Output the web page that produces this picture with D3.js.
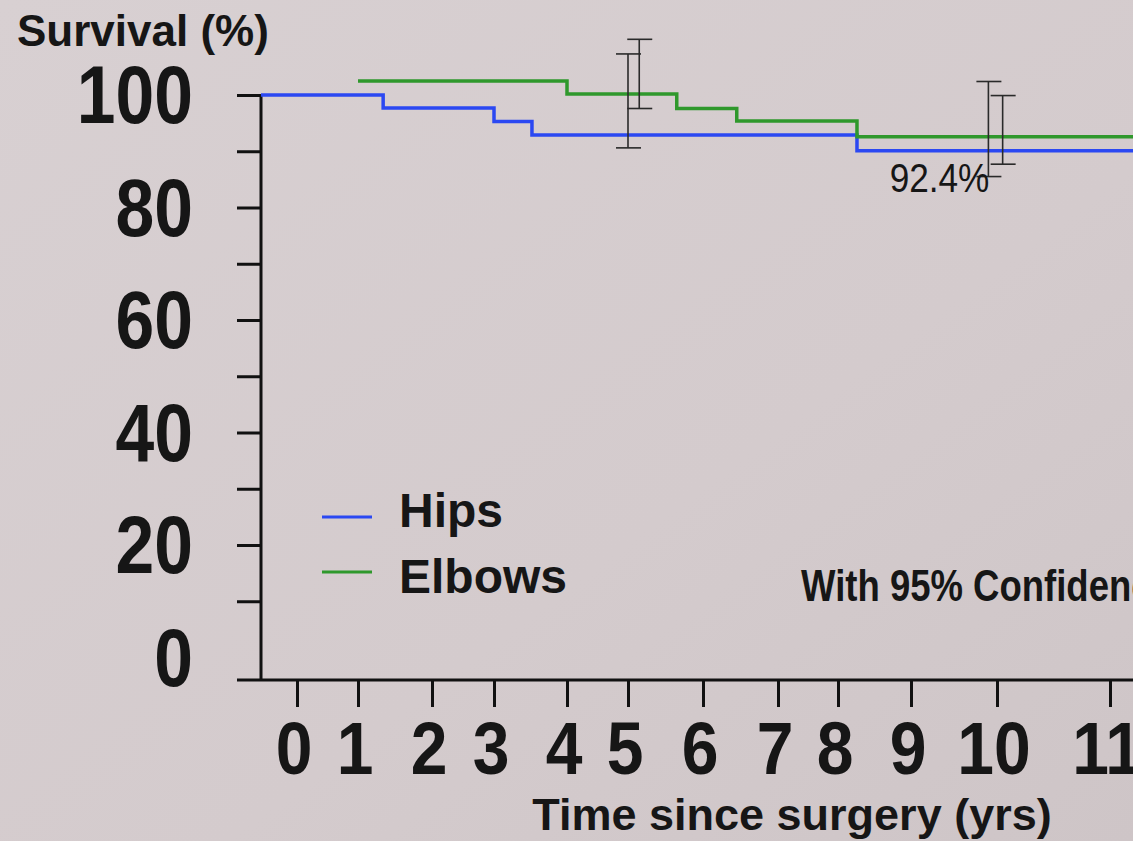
<!DOCTYPE html>
<html>
<head>
<meta charset="utf-8">
<script src="https://cdn.jsdelivr.net/npm/d3@7"></script>
<style>
    html, body { margin: 0; padding: 0; overflow: hidden; }
    body { background: #d5cdcf; }
    text { font-family: "Liberation Sans", Arial, Helvetica, sans-serif; fill: #161616; }
</style>
</head>
<body>
<div id="cvs-container"><svg></svg></div>
<script>
// ---- data ----
const years = [0, 1, 2, 3, 4, 5, 6, 7, 8, 9, 10, 11];
const yTicks = [10, 20, 30, 40, 50, 60, 70, 80, 90, 100];
const yLabels = [0, 20, 40, 60, 80, 100];

// step curves: time the level starts, survival %
const hipsTime = [-0.6, 1.34, 3.0, 3.52, 8.26];
const hipsSurv = [100, 97.7, 95.3, 92.9, 90.1];
const elbowsTime = [1.0, 4.0, 5.65, 6.45, 8.26];
const elbowsSurv = [102.5, 100.2, 97.6, 95.4, 92.6];
const endTime = 11.4;

// 95% confidence bars
const ciTime = [5.0, 5.15, 9.9, 10.05];
const ciLow = [90.6, 97.6, 85.5, 87.7];
const ciHigh = [107.3, 109.9, 102.4, 99.9];

const seriesNames = ["Hips", "Elbows"];
const seriesColors = ["#2b48f2", "#2f982c"];
const noteText = "92.4%";

let width = 1133;
let height = 841;

let svg = d3.select("svg")
    .attr("width", width)
    .attr("height", height);

// photo-ish background
let defs = svg.append("defs");
let grad = defs.append("linearGradient").attr("id", "bg")
    .attr("x1", "0").attr("y1", "0").attr("x2", "1").attr("y2", "1");
grad.append("stop").attr("offset", "0").attr("stop-color", "#d8d0d2");
grad.append("stop").attr("offset", "0.6").attr("stop-color", "#d4cbcd");
grad.append("stop").attr("offset", "1").attr("stop-color", "#cec5c7");
svg.append("rect").attr("width", width).attr("height", height).attr("fill", "url(#bg)");

// the slide's year ticks are not evenly spaced, so x is a piecewise scale
let x = d3.scaleLinear()
    .domain([-0.6].concat(years))
    .range([261, 297, 358, 432, 494, 567, 628, 703, 778, 838, 911, 997, 1110]);

let y = d3.scaleLinear()
    .domain([-4, 100])
    .range([680, 95]);

let axisY = y(-4);
let axisX = x(-0.6);

// y axis ticks
let gy = svg.append("g")
    .attr("transform", `translate(${axisX},0)`)
    .call(d3.axisLeft(y).tickValues(yTicks).tickSize(24).tickFormat(""));
gy.select(".domain").remove();
gy.selectAll(".tick line").attr("stroke", "#111").attr("stroke-width", 3);

// x axis ticks
let gx = svg.append("g")
    .attr("transform", `translate(0,${axisY})`)
    .call(d3.axisBottom(x).tickValues(years).tickSize(27).tickFormat(""));
gx.select(".domain").remove();
gx.selectAll(".tick line").attr("stroke", "#111").attr("stroke-width", 3);

// axis lines
svg.append("line")
    .attr("x1", axisX).attr("x2", axisX)
    .attr("y1", y(100) - 1).attr("y2", axisY)
    .attr("stroke", "#111").attr("stroke-width", 3);
svg.append("line")
    .attr("x1", axisX - 24).attr("x2", width)
    .attr("y1", axisY).attr("y2", axisY)
    .attr("stroke", "#111").attr("stroke-width", 3);

// y labels (the slide font is a bit narrow)
svg.selectAll(".ylab").data(yLabels).enter().append("text")
    .attr("class", "ylab")
    .attr("transform", d => `translate(193,${y(d) + 28}) scale(0.86,1)`)
    .attr("text-anchor", "end")
    .style("font-size", "81px")
    .style("font-weight", "bold")
    .text(d => d);

// x labels
svg.selectAll(".xlab").data(years).enter().append("text")
    .attr("class", "xlab")
    .attr("transform", d => `translate(${x(d) - 3},774) scale(0.88,1)`)
    .attr("text-anchor", "middle")
    .style("font-size", "75px")
    .style("font-weight", "bold")
    .text(d => d);

svg.append("text")
    .attr("x", 792)
    .attr("y", 830)
    .attr("text-anchor", "middle")
    .style("font-size", "45px")
    .style("font-weight", "bold")
    .text("Time since surgery (yrs)");

svg.append("text")
    .attr("x", 17)
    .attr("y", 46)
    .style("font-size", "44px")
    .style("font-weight", "bold")
    .text("Survival (%)");

// step lines
function steps(times, surv){
    let pts = times.map((t, i) => [t, surv[i]]);
    pts.push([endTime, surv[surv.length - 1]]);
    return pts;
}

let line = d3.line()
    .x(d => x(d[0]))
    .y(d => y(d[1]))
    .curve(d3.curveStepAfter);

let curves = [steps(hipsTime, hipsSurv), steps(elbowsTime, elbowsSurv)];

svg.selectAll(".km").data(curves).enter().append("path")
    .attr("class", "km")
    .attr("d", line)
    .attr("fill", "none")
    .attr("stroke", (d, i) => seriesColors[i])
    .attr("stroke-width", 3.5);

// confidence bars
let ci = ciTime.map((t, i) => ({t: t, lo: ciLow[i], hi: ciHigh[i]}));
let bars = svg.selectAll(".ci").data(ci).enter().append("g")
    .attr("class", "ci")
    .attr("stroke", "#2a2a2a")
    .attr("stroke-width", 1.6);
bars.append("line")
    .attr("x1", d => x(d.t)).attr("x2", d => x(d.t))
    .attr("y1", d => y(d.hi)).attr("y2", d => y(d.lo));
bars.append("line")
    .attr("x1", d => x(d.t) - 12).attr("x2", d => x(d.t) + 13)
    .attr("y1", d => y(d.hi)).attr("y2", d => y(d.hi));
bars.append("line")
    .attr("x1", d => x(d.t) - 12).attr("x2", d => x(d.t) + 13)
    .attr("y1", d => y(d.lo)).attr("y2", d => y(d.lo));

// 92.4% note, sits under the 10 yr bar
svg.append("text")
    .attr("transform", `translate(${x(ciTime[2]) + 1},${y(ciLow[2]) + 15}) scale(0.88,1)`)
    .attr("text-anchor", "end")
    .style("font-size", "40px")
    .text(noteText);

// legend
let leg = svg.selectAll(".leg").data(seriesNames).enter().append("g")
    .attr("class", "leg")
    .attr("transform", (d, i) => `translate(322,${517 + i * 55})`);
leg.append("line")
    .attr("x1", 0).attr("x2", 50)
    .attr("stroke", (d, i) => seriesColors[i])
    .attr("stroke-width", 3);
leg.append("text")
    .attr("x", 77)
    .attr("y", (d, i) => 10 + i * 11)
    .style("font-size", "48px")
    .style("font-weight", "bold")
    .text(d => d);

// cut off by the right edge of the slide, as in the photo
svg.append("text")
    .attr("transform", "translate(801,601) scale(0.83,1)")
    .style("font-size", "44px")
    .style("font-weight", "bold")
    .text("With 95% Confidence");
</script>
</body>
</html>
